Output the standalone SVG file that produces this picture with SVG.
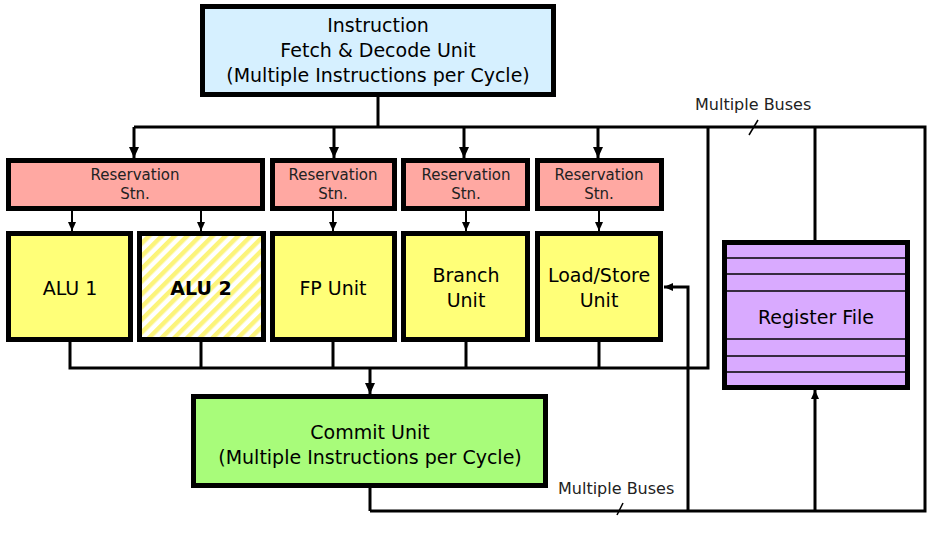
<svg xmlns="http://www.w3.org/2000/svg" width="931" height="538" viewBox="0 0 931 538">
<style>
.box{stroke:#000;stroke-width:5}
.bus{fill:none;stroke:#000;stroke-width:3}
.thin{fill:none;stroke:#000;stroke-width:2}
.reg{stroke:#000;stroke-width:1.5}
text{font-family:"DejaVu Sans","Liberation Sans",sans-serif;fill:#000;text-anchor:middle}
.rs{font-size:15px;fill:#222}
.unit{font-size:19px}
.lbl{font-size:16px;text-anchor:start;fill:#222}
</style>
<defs>
<marker id="ab" markerUnits="userSpaceOnUse" markerWidth="12" markerHeight="12" viewBox="0 0 12 12" refX="11" refY="6" orient="auto">
<path d="M0,1 L11,6 L0,11 z" fill="#000"/>
</marker>
<marker id="as" markerUnits="userSpaceOnUse" markerWidth="9" markerHeight="9" viewBox="0 0 9 9" refX="9" refY="4.5" orient="auto">
<path d="M0,0.5 L9,4.5 L0,8.5 z" fill="#000"/>
</marker>
<pattern id="hatch" patternUnits="userSpaceOnUse" width="9" height="9" patternTransform="rotate(45)">
<rect width="9" height="9" fill="#fff"/>
<rect width="4.5" height="9" fill="#fcf47a"/>
</pattern>
</defs>

<g id="connectors">
<polyline class="bus" points="378,97 378,127"/>
<polyline class="bus" points="134,127 925,127 925,511 370,511"/>
<line class="bus" x1="134" y1="127" x2="134" y2="158" marker-end="url(#ab)"/>
<line class="bus" x1="334" y1="127" x2="334" y2="158" marker-end="url(#ab)"/>
<line class="bus" x1="464" y1="127" x2="464" y2="158" marker-end="url(#ab)"/>
<line class="bus" x1="598" y1="127" x2="598" y2="158" marker-end="url(#ab)"/>
<line class="thin" x1="72" y1="211" x2="72" y2="231" marker-end="url(#as)"/>
<line class="thin" x1="201" y1="211" x2="201" y2="231" marker-end="url(#as)"/>
<line class="thin" x1="333" y1="211" x2="333" y2="231" marker-end="url(#as)"/>
<line class="thin" x1="466" y1="211" x2="466" y2="231" marker-end="url(#as)"/>
<line class="thin" x1="599" y1="211" x2="599" y2="231" marker-end="url(#as)"/>
<polyline class="bus" points="708,127 708,368 70,368 70,342"/>
<line class="bus" x1="201" y1="342" x2="201" y2="368"/>
<line class="bus" x1="333" y1="342" x2="333" y2="368"/>
<line class="bus" x1="466" y1="342" x2="466" y2="368"/>
<line class="bus" x1="599" y1="342" x2="599" y2="368"/>
<line class="bus" x1="370" y1="368" x2="370" y2="394" marker-end="url(#ab)"/>
<line class="bus" x1="370" y1="488" x2="370" y2="511"/>
<polyline class="bus" points="688,511 688,287 664,287" marker-end="url(#as)"/>
<line class="bus" x1="815" y1="127" x2="815" y2="240"/>
<line class="bus" x1="815" y1="511" x2="815" y2="390" marker-end="url(#as)"/>
<line x1="758" y1="120" x2="749" y2="135" stroke="#000" stroke-width="1.5"/>
<line x1="623" y1="503" x2="617" y2="515" stroke="#000" stroke-width="1.5"/>
<text class="lbl" x="695" y="110">Multiple Buses</text>
<text class="lbl" x="558" y="494">Multiple Buses</text>
</g>

<g id="fetch">
<rect class="box" x="202.5" y="6.5" width="351" height="88" fill="#d6f0ff"/>
<text class="unit" x="378" y="32">Instruction</text>
<text class="unit" x="378" y="57">Fetch &amp; Decode Unit</text>
<text class="unit" x="378" y="82">(Multiple Instructions per Cycle)</text>
</g>

<g id="rs1">
<rect class="box" x="8.5" y="160.5" width="254" height="48" fill="#ffa8a2"/>
<text class="rs" x="135" y="180">Reservation</text>
<text class="rs" x="135" y="199">Stn.</text>
</g>
<g id="rs2">
<rect class="box" x="272.5" y="160.5" width="122" height="48" fill="#ffa8a2"/>
<text class="rs" x="333" y="180">Reservation</text>
<text class="rs" x="333" y="199">Stn.</text>
</g>
<g id="rs3">
<rect class="box" x="403.5" y="160.5" width="124" height="48" fill="#ffa8a2"/>
<text class="rs" x="466" y="180">Reservation</text>
<text class="rs" x="466" y="199">Stn.</text>
</g>
<g id="rs4">
<rect class="box" x="537.5" y="160.5" width="124" height="48" fill="#ffa8a2"/>
<text class="rs" x="599" y="180">Reservation</text>
<text class="rs" x="599" y="199">Stn.</text>
</g>

<g id="alu1">
<rect class="box" x="8.5" y="233.5" width="122" height="106" fill="#ffff78"/>
<text class="unit" x="70" y="295">ALU 1</text>
</g>
<g id="alu2">
<rect class="box" x="139.5" y="233.5" width="124" height="106" fill="url(#hatch)"/>
<text class="unit" x="201" y="295" font-weight="bold">ALU 2</text>
</g>
<g id="fp">
<rect class="box" x="272.5" y="233.5" width="122" height="106" fill="#ffff78"/>
<text class="unit" x="333" y="295">FP Unit</text>
</g>
<g id="branch">
<rect class="box" x="403.5" y="233.5" width="124" height="106" fill="#ffff78"/>
<text class="unit" x="466" y="282">Branch</text>
<text class="unit" x="466" y="307">Unit</text>
</g>
<g id="loadstore">
<rect class="box" x="537.5" y="233.5" width="123" height="106" fill="#ffff78"/>
<text class="unit" x="599" y="282">Load/Store</text>
<text class="unit" x="599" y="307">Unit</text>
</g>

<g id="regfile">
<rect class="box" x="724.5" y="242.5" width="183" height="145" fill="#d9aaff"/>
<line class="reg" x1="727" y1="258" x2="905" y2="258"/>
<line class="reg" x1="727" y1="274" x2="905" y2="274"/>
<line class="reg" x1="727" y1="291" x2="905" y2="291"/>
<line class="reg" x1="727" y1="339" x2="905" y2="339"/>
<line class="reg" x1="727" y1="356" x2="905" y2="356"/>
<line class="reg" x1="727" y1="372" x2="905" y2="372"/>
<text class="unit" x="816" y="324" font-size="19.5">Register File</text>
</g>

<g id="commit">
<rect class="box" x="193.5" y="396.5" width="352" height="89" fill="#a8fc7a"/>
<text class="unit" x="370" y="439">Commit Unit</text>
<text class="unit" x="370" y="464">(Multiple Instructions per Cycle)</text>
</g>
</svg>
